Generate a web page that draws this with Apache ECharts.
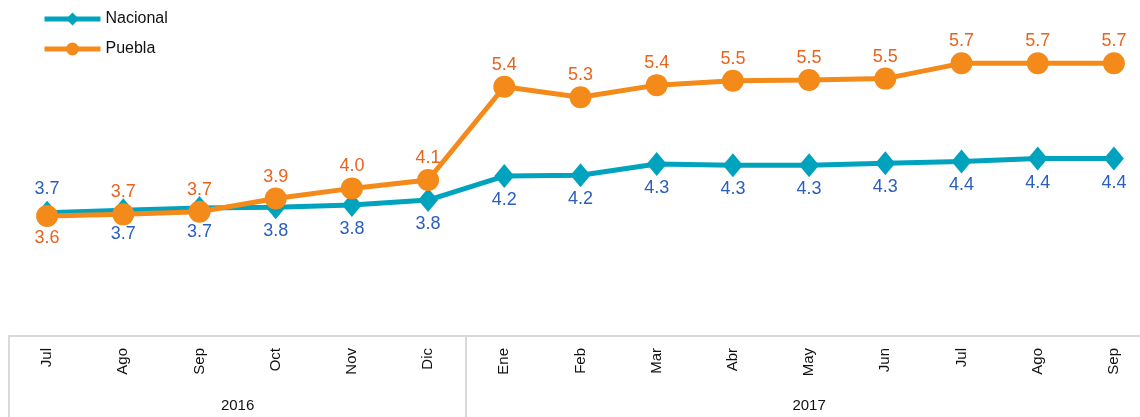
<!DOCTYPE html>
<html>
<head>
<meta charset="utf-8">
<script src="https://cdn.jsdelivr.net/npm/echarts@6/dist/echarts.min.js"></script>
<style>
  html, body { margin: 0; padding: 0; background: #fff; overflow: hidden; width: 1140px; height: 417px; }
  #chart { width: 1152px; height: 417px; }
</style>
</head>
<body>
<div id="chart"></div>
<script>
// Categories (months) and year groups
var months = ['Jul', 'Ago', 'Sep', 'Oct', 'Nov', 'Dic', 'Ene', 'Feb', 'Mar', 'Abr', 'May', 'Jun', 'Jul', 'Ago', 'Sep'];
var years = ['2016', '2017'];
var yearSpans = [6, 9];

// Series values and their printed labels
var nacional = [3.645, 3.68, 3.71, 3.72, 3.75, 3.82, 4.15, 4.16, 4.315, 4.30, 4.30, 4.325, 4.35, 4.39, 4.39];
var nacionalLabels = ['3.7', '3.7', '3.7', '3.8', '3.8', '3.8', '4.2', '4.2', '4.3', '4.3', '4.3', '4.3', '4.4', '4.4', '4.4'];
var puebla = [3.60, 3.623, 3.66, 3.84, 3.98, 4.095, 5.378, 5.233, 5.40, 5.46, 5.47, 5.49, 5.70, 5.70, 5.70];
var pueblaLabels = ['3.6', '3.7', '3.7', '3.9', '4.0', '4.1', '5.4', '5.3', '5.4', '5.5', '5.5', '5.5', '5.7', '5.7', '5.7'];

var FONT = 'Liberation Sans, Arial, sans-serif';

// year label centres and group boundaries (in band units)
var boundaries = [0];
var yearCenters = [];
var acc = 0;
for (var i = 0; i < yearSpans.length; i++) {
  yearCenters.push(acc + yearSpans[i] / 2);
  acc += yearSpans[i];
  if (i < yearSpans.length - 1) boundaries.push(acc);
}

function buildData(values, flipFirst) {
  return values.map(function (v, i) {
    var item = { value: v };
    if (i === 0) item.label = { position: flipFirst };
    return item;
  });
}

var chart = echarts.init(document.getElementById('chart'));
chart.setOption({
  animation: false,
  backgroundColor: '#ffffff',
  grid: { left: 9, top: 0, right: 0, height: 336, containLabel: false },
  legend: {
    orient: 'vertical',
    left: 37,
    top: 6,
    itemWidth: 56,
    itemHeight: 16,
    itemGap: 14,
    lineStyle: { width: 5 },
    textStyle: { fontFamily: FONT, fontSize: 16, color: '#111' },
    data: ['Nacional', 'Puebla']
  },
  xAxis: [
    {
      type: 'category',
      data: months,
      boundaryGap: true,
      axisLine: { show: true, lineStyle: { color: '#d9d9d9', width: 2 } },
      axisTick: { show: false },
      axisLabel: {
        rotate: 90,
        margin: 12,
        fontFamily: FONT,
        fontSize: 15,
        color: '#111',
        interval: 0
      }
    },
    {
      type: 'value',
      min: 0,
      max: months.length,
      position: 'bottom',
      axisLine: { show: false },
      splitLine: { show: false },
      axisTick: {
        show: true,
        customValues: boundaries,
        length: 81,
        lineStyle: { color: '#d9d9d9', width: 2 }
      },
      axisLabel: {
        customValues: yearCenters,
        margin: 62,
        fontFamily: FONT,
        fontSize: 15,
        color: '#111',
        formatter: function (v) {
          var idx = yearCenters.indexOf(v);
          return idx >= 0 ? years[idx] : '';
        }
      }
    }
  ],
  yAxis: {
    type: 'value',
    min: 1.95,
    max: 6.571,
    show: false,
    splitLine: { show: false }
  },
  series: [
    {
      name: 'Nacional',
      type: 'line',
      xAxisIndex: 0,
      data: buildData(nacional, 'top'),
      symbol: 'diamond',
      symbolSize: [20, 24],
      itemStyle: { color: '#00A3BE' },
      lineStyle: { color: '#00A3BE', width: 5 },
      label: {
        show: true,
        position: 'bottom',
        distance: 3,
        fontFamily: FONT,
        fontSize: 18,
        color: '#2A5FBE',
        formatter: function (p) { return nacionalLabels[p.dataIndex]; }
      },
      z: 2
    },
    {
      name: 'Puebla',
      type: 'line',
      xAxisIndex: 0,
      data: buildData(puebla, 'bottom'),
      symbol: 'circle',
      symbolSize: 22,
      itemStyle: { color: '#F38A1A' },
      lineStyle: { color: '#F38A1A', width: 5 },
      label: {
        show: true,
        position: 'top',
        distance: 2,
        fontFamily: FONT,
        fontSize: 18,
        color: '#E8641E',
        formatter: function (p) { return pueblaLabels[p.dataIndex]; }
      },
      z: 3
    }
  ]
});
</script>
</body>
</html>
